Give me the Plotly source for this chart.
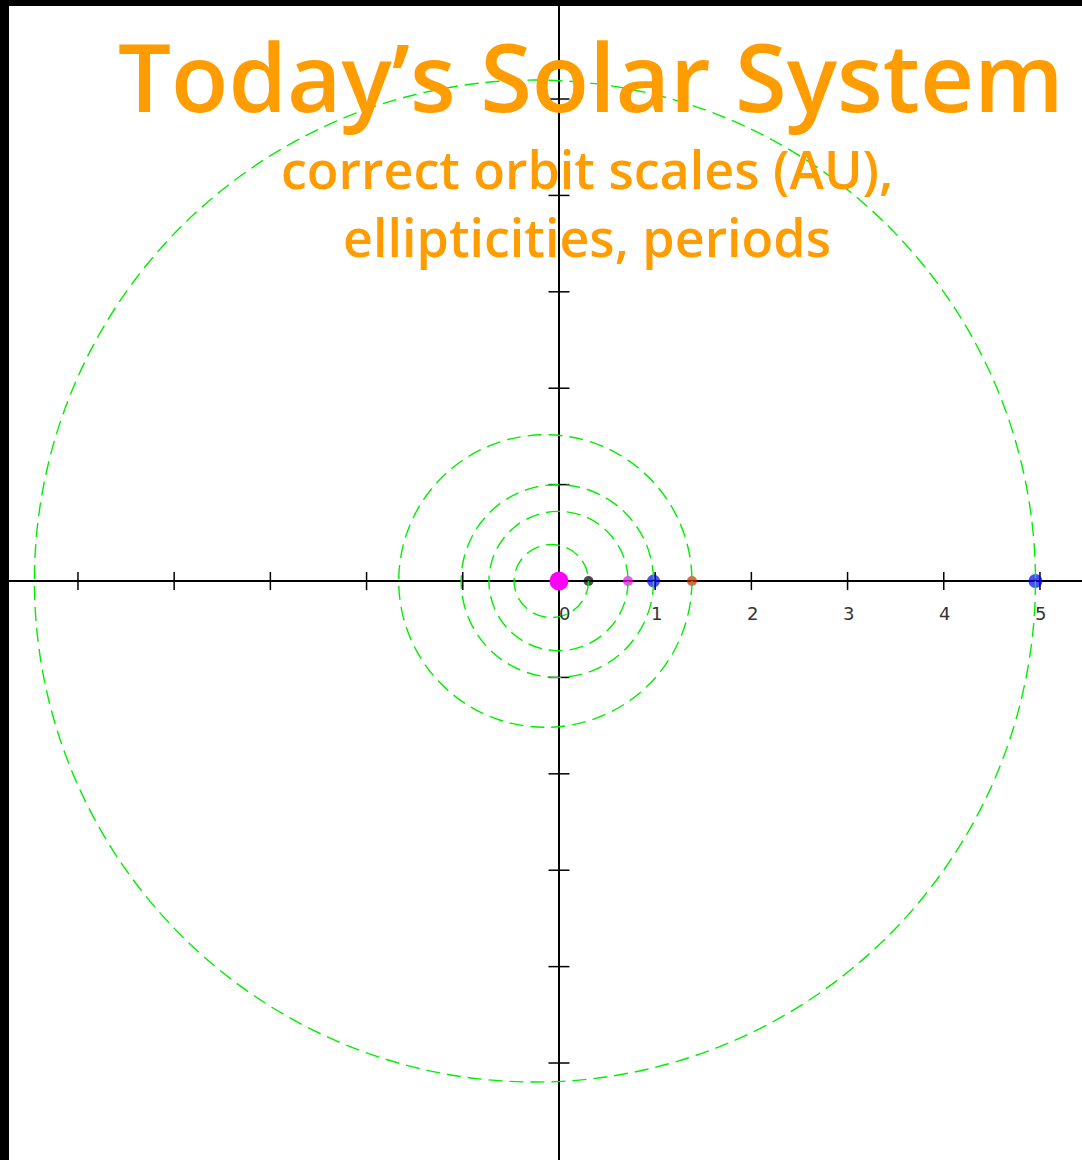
import plotly.graph_objects as go

# ---- data ----
planet_names = ["Mercury", "Venus", "Earth", "Mars", "Jupiter"]
semi_major_au = [0.387, 0.723, 1.000, 1.524, 5.203]
eccentricity = [0.206, 0.007, 0.017, 0.093, 0.048]
planet_colors = ["black", "#ff00ff", "#0000ff", "#dd2200", "#0000ff"]
planet_sizes = [10, 10, 13, 10, 14]

sun_pos = 0.0
x_tick_vals = [-5, -4, -3, -2, -1, 1, 2, 3, 4, 5]
x_tick_labels = ["0", "1", "2", "3", "4", "5"]
x_label_vals = [0, 1, 2, 3, 4, 5]
y_tick_vals = [-5, -4, -3, -2, -1, 1, 2, 3, 4, 5]

title_text = "Today’s Solar System"
subtitle_lines = ["correct orbit scales (AU),", "ellipticities, periods"]

ORANGE = "#ff9c00"
GREEN = "#00ee00"

fig = go.Figure()

# orbits as ellipses (Sun at the focus, perihelion on +x axis)
for a, e in zip(semi_major_au, eccentricity):
    b = a * (1 - e * e) ** 0.5
    cx = -a * e
    fig.add_shape(type="circle", xref="x", yref="y",
                  x0=cx - a, x1=cx + a, y0=-b, y1=b,
                  line=dict(color=GREEN, width=1.4, dash="14px,7px"),
                  layer="above")

# ticks
fig.add_trace(go.Scatter(x=x_tick_vals, y=[0] * len(x_tick_vals), mode="markers",
                         marker=dict(symbol="line-ns", size=13,
                                     line=dict(color="black", width=1.5)),
                         hoverinfo="skip", showlegend=False))
fig.add_trace(go.Scatter(x=[0] * len(y_tick_vals), y=y_tick_vals, mode="markers",
                         marker=dict(symbol="line-ew", size=15,
                                     line=dict(color="black", width=1.5)),
                         hoverinfo="skip", showlegend=False))

# Sun
fig.add_trace(go.Scatter(x=[sun_pos], y=[0], mode="markers",
                         marker=dict(color="#ff00ff", size=19, line=dict(width=0)),
                         name="Sun", showlegend=False))
# planets at perihelion
peri = [a * (1 - e) for a, e in zip(semi_major_au, eccentricity)]
fig.add_trace(go.Scatter(x=peri, y=[0] * len(peri), mode="markers",
                         marker=dict(color=planet_colors, size=planet_sizes, line=dict(width=0)),
                         text=planet_names, showlegend=False))

# tick labels
for v, lab in zip(x_label_vals, x_tick_labels):
    fig.add_annotation(x=v, y=0, xref="x", yref="y", text=lab, showarrow=False,
                       yshift=-32, xshift=6 if v == 0 else 1,
                       font=dict(family="DejaVu Sans", size=18, color="#333333"))

# title + subtitle
fig.add_annotation(x=(591 - 9) / 1073, y=1 - (76 - 6) / 1154, xref="paper", yref="paper",
                   text=title_text, showarrow=False, yanchor="middle", xanchor="center",
                   font=dict(family="Open Sans", size=94, color=ORANGE, weight=600))
fig.add_annotation(x=(587 - 9) / 1073, y=1 - (202 - 6) / 1154, xref="paper", yref="paper",
                   text="<br>".join(subtitle_lines), showarrow=False,
                   yanchor="middle", xanchor="center", align="center",
                   font=dict(family="Open Sans", size=52, color=ORANGE, weight=600))

fig.update_layout(
    width=1082, height=1160,
    margin=dict(l=9, r=0, t=6, b=0, pad=0),
    paper_bgcolor="black", plot_bgcolor="white",
    showlegend=False,
    xaxis=dict(range=[-5.717, 5.437], showgrid=False, showticklabels=False, ticks="",
               zeroline=True, zerolinecolor="black", zerolinewidth=2, fixedrange=True),
    yaxis=dict(range=[-6.006, 5.965], showgrid=False, showticklabels=False, ticks="",
               zeroline=True, zerolinecolor="black", zerolinewidth=2, fixedrange=True),
)

fig.write_html("out.html", config={"displayModeBar": False},
               post_script="document.body.style.margin='0';")
